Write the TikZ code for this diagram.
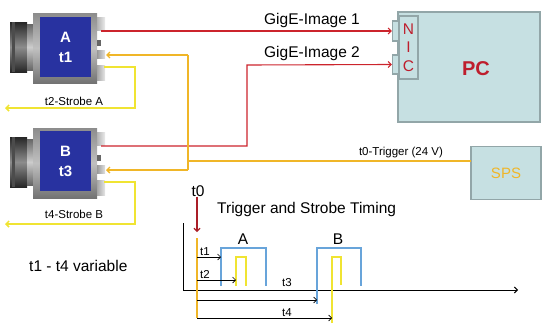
\documentclass[tikz,border=0pt]{standalone}
\usepackage{fontspec}
\setmainfont{Liberation Sans}
\usetikzlibrary{arrows.meta}

\definecolor{gigred}{RGB}{204,36,44}
\definecolor{trigorange}{RGB}{240,182,40}
\definecolor{strobeyellow}{RGB}{240,228,50}
\definecolor{pulseblue}{RGB}{104,164,218}
\definecolor{boxfill}{RGB}{198,224,226}
\definecolor{boxline}{RGB}{146,166,168}
\definecolor{camblue}{RGB}{40,50,160}
\definecolor{pcred}{RGB}{190,30,45}
\definecolor{t0red}{RGB}{170,30,40}

\tikzset{
  tip/.style={-{Straight Barb[length=3pt,width=6pt]}},
  gige/.style={draw=gigred, line width=1.1pt, tip},
  trigline/.style={draw=trigorange, line width=1.4pt},
  strobeline/.style={draw=strobeyellow, line width=1.5pt},
  pulse/.style={draw=pulseblue, line width=1.6pt},
  timearrow/.style={draw=black, line width=0.6pt, tip},
  hwbox/.style={draw=boxline, fill=boxfill, line width=1.2pt, inner sep=0pt},
  camface/.style={fill=camblue, draw=none, inner sep=0pt, minimum width=51pt,
    minimum height=60pt, text=white, align=center,
    font=\fontsize{15}{20}\selectfont\bfseries},
  lbl/.style={font=\fontsize{15.5}{17}\selectfont, inner sep=0pt},
  smalllbl/.style={font=\fontsize{11.5}{13}\selectfont, inner sep=0pt},
  camera/.pic={
    % lens barrel
    \shade[top color=black!85, bottom color=black!85, middle color=black!45]
      (-23,9) rectangle (-6,59);
    \shade[top color=black!60, bottom color=black!60, middle color=black!20]
      (-6,11) rectangle (0,57);
    \fill[black!70] (-21,9) rectangle (-18,59);
    % housing
    \shade[top color=black!45, bottom color=black!55, middle color=black!25]
      (0,0) rectangle (64,70);
    % connectors on the back
    \shade[left color=black!30, right color=black!8] (64,4) rectangle (72,17);
    \shade[left color=black!40, right color=black!12] (64,37) rectangle (72,45);
    \shade[left color=black!35, right color=black!10] (64,52) rectangle (72,67);
    \fill[black!60] (64,27) rectangle (68,33);
  }
}

\begin{document}
\begin{tikzpicture}[x=1pt, y=-1pt]
\useasboundingbox (0,0) rectangle (550,324);

% ---------- cameras ----------
\pic at (33,13) {camera};
\node[camface] (camA) at (65.5,47) {A\\t1};
\pic at (33,128) {camera};
\node[camface] (camB) at (65.5,161) {B\\t3};

\coordinate (A-eth) at (101,31);
\coordinate (A-trig) at (106,55);
\coordinate (A-str) at (104,67);
\coordinate (B-eth) at (101,146);
\coordinate (B-trig) at (106,170);
\coordinate (B-str) at (104,182);

% ---------- PC with network card ----------
\node[hwbox, minimum width=142pt, minimum height=110pt] (pc) at (469,67) {};
\node[font=\fontsize{20}{22}\selectfont\bfseries, text=pcred] at (476,69) {PC};
\node[hwbox, minimum width=7pt, minimum height=20pt] (nicp1) at (396,31) {};
\node[hwbox, minimum width=7pt, minimum height=19pt] (nicp2) at (396,64.5) {};
\node[hwbox, minimum width=19pt, minimum height=63pt, text=pcred,
      align=center, font=\fontsize{15.5}{18.5}\selectfont] (nic) at (408.5,47.5) {N\\I\\C};

% ---------- SPS ----------
\node[hwbox, minimum width=70pt, minimum height=53pt, text=trigorange,
      font=\fontsize{15}{17}\selectfont] (sps) at (506,173) {SPS};
\coordinate (sps-out) at (471,161);

% ---------- image links ----------
\draw[gige] (A-eth) -- (nicp1.west);
\node[lbl] at (312,20) {GigE-Image 1};
\coordinate (gbend) at (247,65);
\draw[gige] (B-eth) -| (gbend) -- (nicp2.west);
\node[lbl] at (312,53) {GigE-Image 2};

% ---------- trigger bus ----------
\coordinate (busA) at (188,55);
\coordinate (busT) at (188,161);
\coordinate (busB) at (188,170);
\draw[trigline] (sps-out) -- (busT);
\draw[trigline] (busA) -- (busB);
\draw[trigline, tip] (busA) -- (A-trig);
\draw[trigline, tip] (busB) -- (B-trig);
\node[smalllbl] at (401,153) {t0-Trigger (24 V)};

% ---------- strobe outputs ----------
\coordinate (sAc) at (135,108);
\coordinate (sAend) at (5,108);
\draw[strobeline, tip] (A-str) -| (sAc) -- (sAend);
\node[smalllbl] at (74,101) {t2-Strobe A};
\coordinate (sBc) at (135,224);
\coordinate (sBend) at (5,224);
\draw[strobeline, tip] (B-str) -| (sBc) -- (sBend);
\node[smalllbl] at (74,214.5) {t4-Strobe B};

\node[lbl, anchor=west] at (29,266) {t1 - t4 variable};

% ---------- timing chart ----------
\node[lbl] (t0) at (198,191) {t0};
\coordinate (t0tip) at (197,232);
\draw[draw=t0red, line width=1.1pt, -{Straight Barb[length=3pt,width=6pt]}]
  (t0.south -| t0tip) -- (t0tip);
\node[lbl, anchor=west] at (217,209) {Trigger and Strobe Timing};

\coordinate (origin) at (183,290);
\draw[line width=1pt] (183,223) -- (origin);
\draw[line width=1pt, tip] (origin) -- (518,290);

\draw[trigline] (197,238) -- (197,318);

% pulses A
\draw[pulse] (221,286) -- (221,248) -- (266,248) -- (266,286);
\draw[strobeline] (236,286) -- (236,257) -- (246,257) -- (246,286);
\node[lbl] at (243,239) {A};
% pulses B
\draw[pulse] (317,304) -- (317,248) -- (361,248) -- (361,286);
\draw[strobeline] (332,323) -- (332,257) -- (341,257) -- (341,285);
\node[lbl] at (338,239) {B};

% delays
\draw[timearrow] (197,257) -- (221,257);
\node[smalllbl] at (205,252) {t1};
\draw[timearrow] (197,280) -- (236,280);
\node[smalllbl] at (205,275) {t2};
\draw[timearrow] (197,300) -- (317,300);
\node[smalllbl] at (287,283) {t3};
\draw[timearrow] (197,318) -- (332,318);
\node[smalllbl] at (287,313) {t4};
\end{tikzpicture}
\end{document}
